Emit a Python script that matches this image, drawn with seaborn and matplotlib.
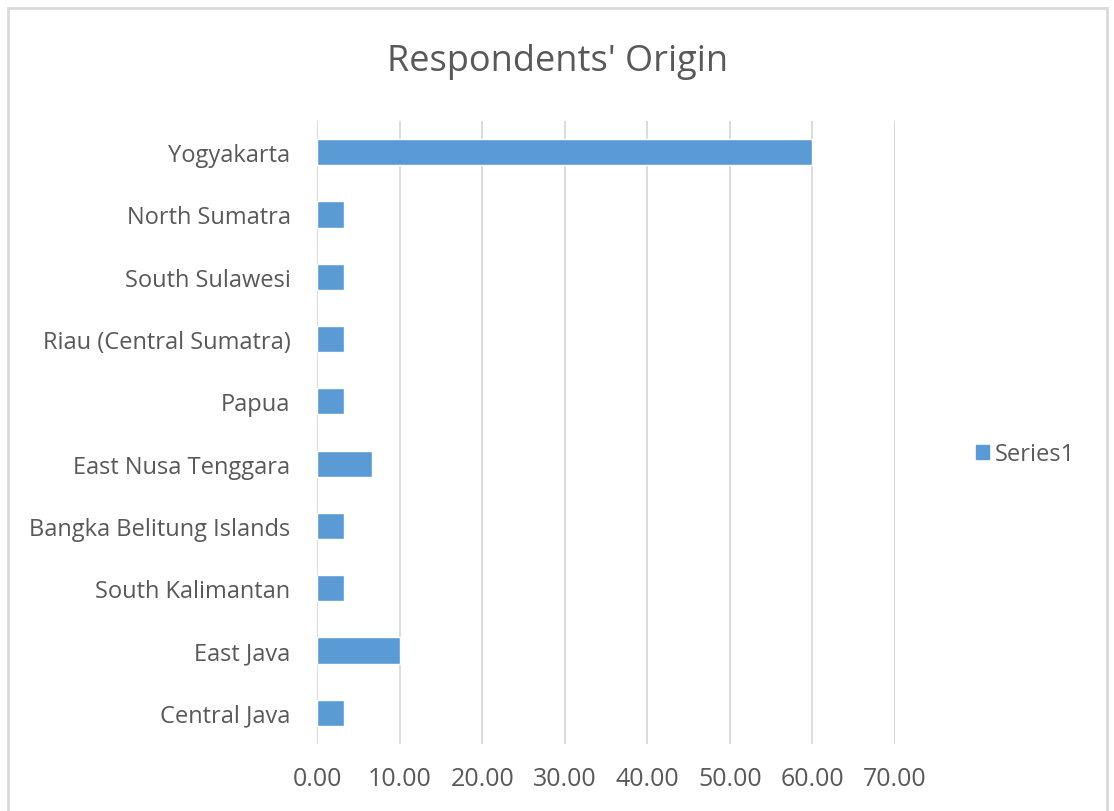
import pandas as pd
import seaborn as sns
import matplotlib.pyplot as plt
from matplotlib.patches import Rectangle, Patch

# Dados do gráfico (percentual de respondentes)
regioes = ['Yogyakarta', 'North Sumatra', 'South Sulawesi', 'Riau (Central Sumatra)',
           'Papua', 'East Nusa Tenggara', 'Bangka Belitung Islands',
           'South Kalimantan', 'East Java', 'Central Java']
percentual = [60.00, 3.33, 3.33, 3.33, 3.33, 6.67, 3.33, 3.33, 10.00, 3.33]
ticks_x = [0, 10, 20, 30, 40, 50, 60, 70]

df = pd.DataFrame({'Regiao': regioes, 'Percentual': percentual})

sns.set_style('white')
plt.rcParams['font.family'] = ['Open Sans', 'DejaVu Sans']

cor_texto = '#595959'
cor_barra = '#5b9bd5'

fig = plt.figure(figsize=(11.14, 8.12), dpi=100)
ax = fig.add_axes([317 / 1114, 1 - 745 / 812, (895 - 317) / 1114, (745 - 122) / 812])

sns.barplot(data=df, x='Percentual', y='Regiao', orient='h', color=cor_barra,
            saturation=1, width=0.42, ax=ax, zorder=3)

ax.set_xlim(0, 70)
ax.set_xticks(ticks_x)
ax.set_xticklabels([f'{t:.2f}' for t in ticks_x])
ax.grid(axis='x', color='#d9d9d9', linewidth=1.3, zorder=0)
ax.grid(axis='y', visible=False)
for s in ax.spines.values():
    s.set_visible(False)
ax.tick_params(axis='both', length=0, colors=cor_texto)
ax.tick_params(axis='x', pad=16, labelsize=18)
ax.tick_params(axis='y', pad=19, labelsize=17)
ax.set_xlabel('')
ax.set_ylabel('')

fig.text(558 / 1114, 1 - 62 / 812, "Respondents' Origin", ha='center', va='center',
         fontsize=26, color=cor_texto)

ax.legend(handles=[Patch(color=cor_barra, label='Series1')], loc='center left',
          bbox_to_anchor=(955 / 1114, 1 - 455 / 812), bbox_transform=fig.transFigure,
          frameon=False, fontsize=17, labelcolor=cor_texto, handlelength=0.55,
          handleheight=0.55, handletextpad=0.25)

# Moldura do gráfico
fig.patches.append(Rectangle((8 / 1114, -0.05), (1107 - 8) / 1114, 1.05 - 9 / 812,
                             transform=fig.transFigure, fill=False,
                             edgecolor='#d9d9d9', linewidth=2))

fig.savefig('out.png', dpi=100)
